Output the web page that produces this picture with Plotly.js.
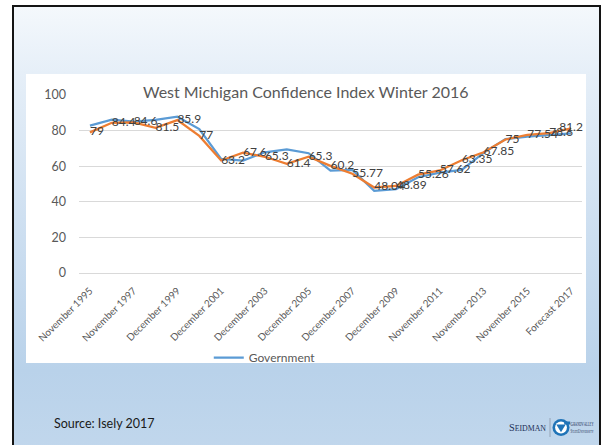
<!DOCTYPE html>
<html>
<head>
<meta charset="utf-8">
<script src="https://cdn.plot.ly/plotly-3.0.1.min.js"></script>
<style>
  html, body { margin:0; padding:0; width:602px; height:445px; overflow:hidden; background:#ffffff; }
  #slide {
    position:absolute; left:12px; top:5px; width:589px; height:470px;
    box-sizing:border-box; border:2.5px solid #141414;
    background: linear-gradient(to bottom, #f4f8fc 0%, #e6eff8 14%, #cfe0f1 45%, #b9d2ea 78%, #c3d8ed 100%);
  }
  #chartbg { position:absolute; left:26px; top:74px; width:560px; height:289px; background:#ffffff; }
  #chart { position:absolute; left:26px; top:74px; width:560px; height:320px; }
  #source { position:absolute; left:54px; top:416px; font-family:Lato, 'Open Sans', sans-serif; font-size:12.5px; color:#1a1a1a; }
  #logo { position:absolute; left:507px; top:413px; overflow:visible; }
</style>
</head>
<body>
<div id="slide"></div>
<div id="chartbg"></div>
<div id="chart"></div>
<div id="source">Source: Isely 2017</div>
<svg id="logo" width="90" height="28" viewBox="0 0 90 28">
  <text x="2" y="17.5" font-family="'Liberation Serif', 'DejaVu Serif', serif" font-size="10" fill="#1c2f57" textLength="37" lengthAdjust="spacingAndGlyphs">S<tspan font-size="7.6">EIDMAN</tspan></text>
  <line x1="43" y1="5" x2="43" y2="24" stroke="#8a97aa" stroke-width="0.8"/>
  <circle cx="54" cy="14.5" r="8.5" fill="#1f73b7"/>
  <circle cx="54" cy="14.5" r="5.9" fill="#ffffff"/>
  <path d="M49.3,11.6 L58.7,11.6 L54,19.3 Z" fill="#1f73b7"/>
  <rect x="57.2" y="8.5" width="6" height="3" fill="#1f73b7"/>
  <text x="63.5" y="12.5" font-family="'Liberation Serif', 'DejaVu Serif', serif" font-size="7" fill="#1c2f57" textLength="23" lengthAdjust="spacingAndGlyphs">G<tspan font-size="5.6">RAND</tspan>V<tspan font-size="5.6">ALLEY</tspan></text>
  <text x="63.5" y="19.5" font-family="'Liberation Serif', 'DejaVu Serif', serif" font-size="5.4" fill="#1c2f57" textLength="23" lengthAdjust="spacingAndGlyphs">S<tspan font-size="4.4">TATE</tspan>U<tspan font-size="4.4">NIVERSITY</tspan></text>
</svg>
<script>
// ---- data ----
const categories = [
  'November 1995','November 1996','November 1997','November 1998','December 1999',
  'December 2000','December 2001','December 2002','December 2003','December 2004',
  'December 2005','December 2006','December 2007','December 2008','December 2009',
  'November 2010','November 2011','November 2012','November 2013','November 2014',
  'November 2015','November 2016','Forecast 2017'
];
const tickLabels = [
  'November 1995','November 1997','December 1999','December 2001','December 2003',
  'December 2005','December 2007','December 2009','November 2011','November 2013',
  'November 2015','Forecast 2017'
];
const governmentValues = [
  82.8, 86.1, 85.0, 86.0, 87.8, 80.9, 64.1, 63.2, 67.8, 69.5, 67.3, 57.5,
  57.9, 46.2, 47.1, 53.8, 56.4, 57.9, 67.5, 75.2, 76.6, 77.4, 78.5
];
const indexValues = [
  79, 84.4, 84.6, 81.5, 85.9, 77, 63.2, 67.6, 65.3, 61.4, 65.3, 60.2,
  55.77, 48.04, 48.89, 55.26, 57.62, 63.35, 67.85, 75, 77.54, 78.6, 81.2
];
const chartTitle = 'West Michigan Confidence Index Winter 2016';

// ---- chart ----
const tickVals = categories.filter((c, i) => i % 2 === 0);
const labelPositions = indexValues.map((v, i) => i === indexValues.length - 1 ? 'middle center' : 'middle right');

const traces = [
  {
    x: categories, y: governmentValues, type: 'scatter', mode: 'lines',
    name: 'Government',
    line: { color: '#5b9bd5', width: 2.25 },
    showlegend: true, hoverinfo: 'skip'
  },
  {
    x: categories, y: indexValues, type: 'scatter', mode: 'lines+text',
    name: 'Index',
    line: { color: '#ed7d31', width: 2.25 },
    marker: { size: 16 },
    text: indexValues.map(v => String(v)),
    textposition: labelPositions,
    textfont: { family: 'Lato, sans-serif', size: 12, color: '#404040' },
    cliponaxis: false,
    showlegend: false, hoverinfo: 'skip'
  }
];

const layout = {
  width: 560, height: 320,
  margin: { l: 53, r: 4, t: 21, b: 120.7, pad: 0 },
  paper_bgcolor: 'rgba(0,0,0,0)', plot_bgcolor: '#ffffff',
  font: { family: 'Lato, sans-serif', color: '#595959' },
  xaxis: {
    type: 'category', range: [-0.5, 22.5],
    tickmode: 'array', tickvals: tickVals, ticktext: tickLabels,
    tickangle: -45, tickfont: { size: 10, color: '#595959' },
    ticklabelstandoff: 9,
    showgrid: false, zeroline: false, showline: false, ticks: '',
    automargin: false, fixedrange: true
  },
  yaxis: {
    range: [0, 100], dtick: 20, tick0: 0,
    gridcolor: '#d9d9d9', gridwidth: 1,
    zeroline: true, zerolinecolor: '#d9d9d9', zerolinewidth: 1,
    showline: false, ticks: '',
    tickfont: { size: 12.5, color: '#595959' },
    ticklabelstandoff: 12,
    automargin: false, fixedrange: true
  },
  showlegend: true,
  legend: {
    orientation: 'h', x: 0.258, xanchor: 'left', y: -0.475, yanchor: 'middle',
    font: { size: 12, color: '#595959' }, itemwidth: 30, bgcolor: 'rgba(0,0,0,0)'
  },
  annotations: [{
    text: chartTitle, xref: 'paper', yref: 'paper', x: 0.451, y: 1.017,
    xanchor: 'center', yanchor: 'middle', showarrow: false,
    font: { size: 16, color: '#595959', family: 'Lato, sans-serif' },
    bgcolor: '#ffffff', borderpad: 0
  }]
};

Plotly.newPlot('chart', traces, layout, { displayModeBar: false, staticPlot: true });
</script>
</body>
</html>
